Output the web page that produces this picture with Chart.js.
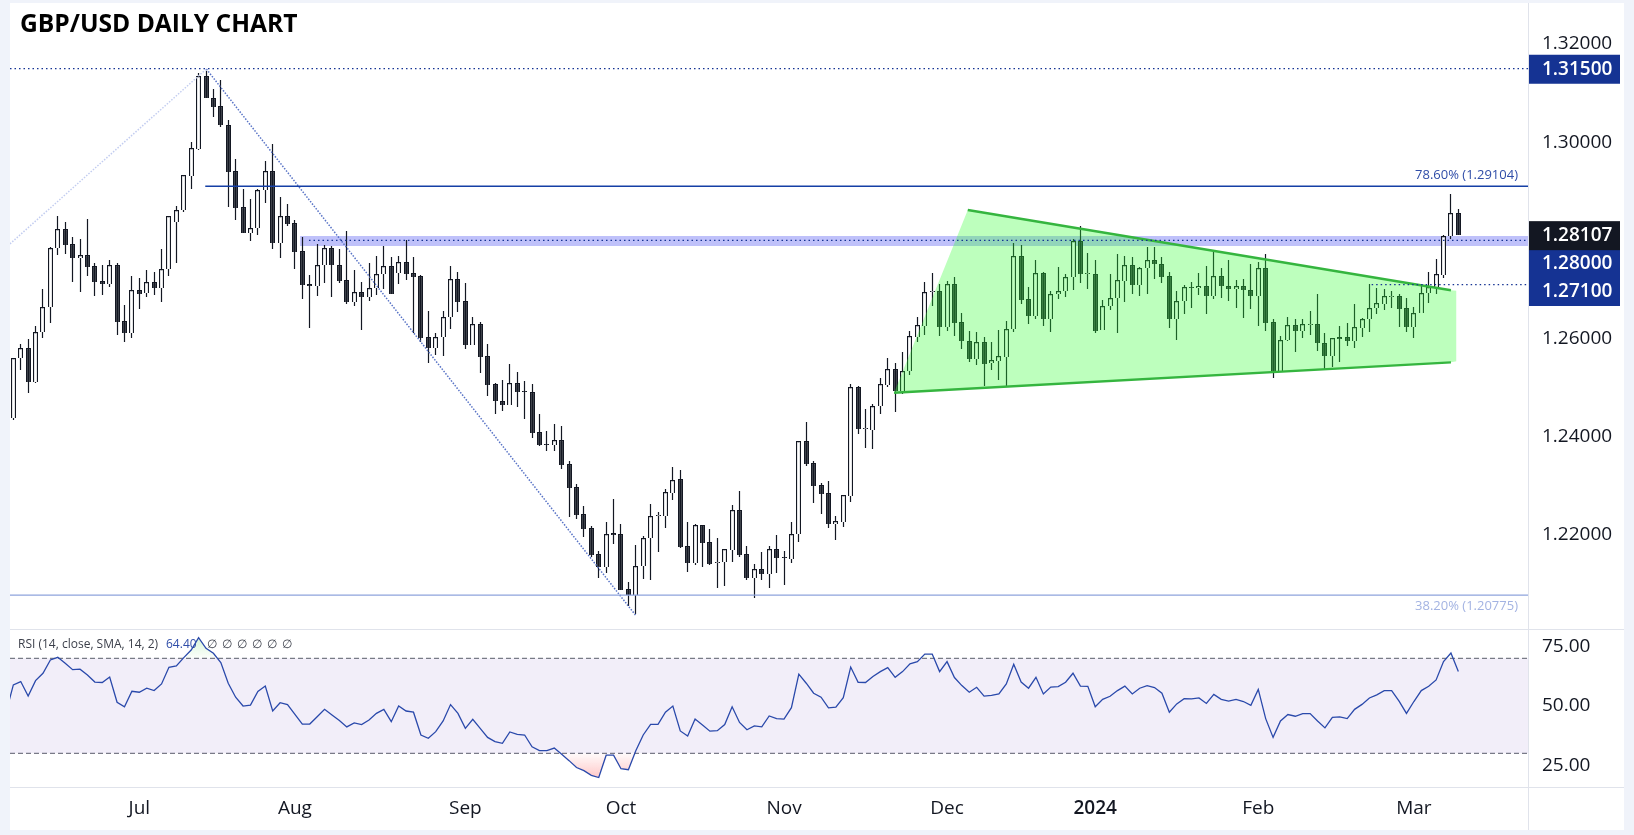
<!DOCTYPE html>
<html>
<head>
<meta charset="utf-8">
<title>GBP/USD Daily Chart</title>
<script src="https://cdn.jsdelivr.net/npm/chart.js@4"></script>
<style>
  html, body { margin: 0; padding: 0; background: #f0f3fa; overflow: hidden; }
  #frame { position: absolute; left: 10px; top: 3px; width: 1614px; height: 827px; background: #fff; }
  .rule { position: absolute; background: #e0e3eb; }
  canvas { position: absolute; left: 0; }
  #priceChart { top: 0; }
  #rsiChart { top: 629px; }
</style>
</head>
<body>
<div id="frame"></div>
<div class="rule" style="left:1528px;top:3px;width:1px;height:827px"></div>
<div class="rule" style="left:10px;top:629px;width:1614px;height:1px"></div>
<div class="rule" style="left:10px;top:787px;width:1614px;height:1px"></div>
<canvas id="priceChart" width="1634" height="629"></canvas>
<canvas id="rsiChart" width="1634" height="201"></canvas>

<script>
const FONT = "'Open Sans', sans-serif";
const INK = "#131722";
const NAVY = "#153393";

// ---------------- Sample Data ----------------
// open, high, low, close
const candles = [
  [1.2438,1.2561,1.2435,1.2560],[1.2560,1.2590,1.2536,1.2580],[1.2580,1.2600,1.2490,1.2512],[1.2512,1.2626,1.2510,1.2613],
  [1.2613,1.2701,1.2602,1.2664],[1.2664,1.2787,1.2632,1.2784],[1.2784,1.2850,1.2770,1.2823],[1.2823,1.2837,1.2772,1.2791],
  [1.2792,1.2807,1.2716,1.2765],[1.2765,1.2803,1.2694,1.2770],[1.2770,1.2844,1.2727,1.2746],[1.2748,1.2753,1.2687,1.2716],
  [1.2717,1.2750,1.2689,1.2712],[1.2712,1.2760,1.2706,1.2749],[1.2750,1.2755,1.2608,1.2634],[1.2635,1.2668,1.2594,1.2612],
  [1.2612,1.2727,1.2602,1.2698],[1.2699,1.2723,1.2661,1.2691],[1.2692,1.2740,1.2685,1.2715],[1.2715,1.2736,1.2689,1.2704],
  [1.2704,1.2782,1.2675,1.2741],[1.2741,1.2850,1.2728,1.2849],[1.2838,1.2870,1.2753,1.2861],[1.2861,1.2934,1.2858,1.2933],
  [1.2932,1.3000,1.2905,1.2988],[1.2987,1.3140,1.2985,1.3134],[1.3134,1.3144,1.3091,1.3091],[1.3091,1.3108,1.3052,1.3072],
  [1.3073,1.3127,1.3030,1.3036],[1.3036,1.3045,1.2869,1.2940],[1.2941,1.2966,1.2842,1.2867],[1.2868,1.2905,1.2816,1.2816],
  [1.2816,1.2884,1.2799,1.2825],[1.2825,1.2905,1.2812,1.2902],[1.2902,1.2962,1.2877,1.2941],[1.2941,1.2996,1.2783,1.2795],
  [1.2795,1.2888,1.2764,1.2849],[1.2849,1.2874,1.2829,1.2834],[1.2835,1.2841,1.2742,1.2777],[1.2778,1.2807,1.2681,1.2709],
  [1.2711,1.2729,1.2622,1.2708],[1.2708,1.2793,1.2687,1.2749],[1.2749,1.2791,1.2713,1.2784],[1.2784,1.2789,1.2685,1.2749],
  [1.2749,1.2783,1.2713,1.2718],[1.2719,1.2819,1.2671,1.2675],[1.2675,1.2740,1.2667,1.2694],[1.2694,1.2715,1.2618,1.2685],
  [1.2685,1.2754,1.2677,1.2704],[1.2704,1.2768,1.2689,1.2731],[1.2731,1.2789,1.2702,1.2747],[1.2747,1.2766,1.2690,1.2690],
  [1.2734,1.2768,1.2711,1.2757],[1.2757,1.2800,1.2719,1.2732],[1.2733,1.2766,1.2611,1.2726],[1.2727,1.2729,1.2593,1.2602],
  [1.2603,1.2656,1.2550,1.2580],[1.2580,1.2611,1.2567,1.2603],[1.2603,1.2656,1.2565,1.2645],[1.2645,1.2747,1.2620,1.2721],
  [1.2721,1.2735,1.2654,1.2675],[1.2676,1.2713,1.2579,1.2588],[1.2588,1.2644,1.2588,1.2629],[1.2630,1.2634,1.2530,1.2563],
  [1.2564,1.2589,1.2483,1.2506],[1.2507,1.2509,1.2446,1.2472],[1.2472,1.2516,1.2453,1.2465],[1.2465,1.2548,1.2465,1.2509],
  [1.2509,1.2532,1.2461,1.2492],[1.2493,1.2514,1.2436,1.2492],[1.2491,1.2508,1.2398,1.2408],[1.2410,1.2446,1.2381,1.2383],
  [1.2385,1.2412,1.2371,1.2384],[1.2384,1.2426,1.2371,1.2393],[1.2394,1.2422,1.2334,1.2343],[1.2345,1.2350,1.2237,1.2296],
  [1.2298,1.2303,1.2233,1.2241],[1.2243,1.2259,1.2195,1.2212],[1.2214,1.2218,1.2155,1.2159],[1.2161,1.2167,1.2112,1.2135],
  [1.2135,1.2226,1.2123,1.2203],[1.2204,1.2273,1.2182,1.2200],[1.2202,1.2222,1.2088,1.2088],[1.2090,1.2104,1.2055,1.2078],
  [1.2078,1.2180,1.2039,1.2136],[1.2136,1.2197,1.2110,1.2193],[1.2193,1.2263,1.2108,1.2238],[1.2239,1.2246,1.2165,1.2241],
  [1.2239,1.2293,1.2214,1.2287],[1.2286,1.2339,1.2271,1.2313],[1.2314,1.2332,1.2174,1.2176],[1.2178,1.2226,1.2125,1.2143],
  [1.2144,1.2222,1.2139,1.2220],[1.2220,1.2220,1.2135,1.2184],[1.2186,1.2212,1.2139,1.2141],[1.2142,1.2194,1.2092,1.2146],
  [1.2146,1.2171,1.2096,1.2171],[1.2170,1.2261,1.2145,1.2250],[1.2251,1.2290,1.2155,1.2159],[1.2161,1.2178,1.2108,1.2112],
  [1.2113,1.2141,1.2072,1.2130],[1.2131,1.2165,1.2108,1.2121],[1.2121,1.2178,1.2092,1.2171],[1.2171,1.2201,1.2123,1.2154],
  [1.2155,1.2167,1.2098,1.2154],[1.2152,1.2226,1.2142,1.2203],[1.2203,1.2391,1.2186,1.2391],[1.2391,1.2430,1.2341,1.2345],
  [1.2346,1.2350,1.2265,1.2300],[1.2301,1.2306,1.2243,1.2284],[1.2285,1.2309,1.2215,1.2223],[1.2223,1.2239,1.2190,1.2228],
  [1.2227,1.2281,1.2216,1.2281],[1.2280,1.2507,1.2267,1.2501],[1.2501,1.2503,1.2406,1.2416],[1.2416,1.2456,1.2377,1.2418],
  [1.2414,1.2467,1.2375,1.2462],[1.2463,1.2520,1.2446,1.2507],[1.2506,1.2560,1.2501,1.2539],[1.2539,1.2550,1.2450,1.2493],
  [1.2494,1.2573,1.2488,1.2535],[1.2535,1.2615,1.2526,1.2605],[1.2604,1.2645,1.2593,1.2627],[1.2626,1.2715,1.2607,1.2694],
  [1.2695,1.2734,1.2666,1.2696],[1.2696,1.2711,1.2605,1.2624],[1.2624,1.2717,1.2615,1.2711],[1.2711,1.2725,1.2605,1.2632],
  [1.2633,1.2653,1.2579,1.2595],[1.2596,1.2615,1.2552,1.2558],[1.2559,1.2613,1.2546,1.2594],[1.2594,1.2603,1.2503,1.2549],
  [1.2550,1.2593,1.2536,1.2556],[1.2555,1.2617,1.2516,1.2564],[1.2563,1.2635,1.2501,1.2619],[1.2619,1.2795,1.2614,1.2768],
  [1.2768,1.2791,1.2671,1.2679],[1.2680,1.2705,1.2630,1.2647],[1.2647,1.2761,1.2639,1.2733],[1.2734,1.2736,1.2626,1.2639],
  [1.2639,1.2697,1.2614,1.2690],[1.2690,1.2746,1.2681,1.2696],[1.2696,1.2732,1.2685,1.2725],[1.2725,1.2803,1.2699,1.2798],
  [1.2798,1.2829,1.2713,1.2732],[1.2733,1.2774,1.2701,1.2734],[1.2731,1.2760,1.2611,1.2616],[1.2617,1.2679,1.2617,1.2666],
  [1.2666,1.2732,1.2658,1.2682],[1.2682,1.2772,1.2611,1.2719],[1.2718,1.2768,1.2675,1.2749],[1.2749,1.2766,1.2691,1.2710],
  [1.2710,1.2746,1.2687,1.2743],[1.2743,1.2787,1.2691,1.2761],[1.2761,1.2787,1.2721,1.2751],[1.2751,1.2766,1.2713,1.2726],
  [1.2727,1.2736,1.2622,1.2639],[1.2639,1.2697,1.2597,1.2676],[1.2676,1.2709,1.2650,1.2706],[1.2706,1.2715,1.2662,1.2703],
  [1.2704,1.2734,1.2689,1.2708],[1.2708,1.2748,1.2650,1.2687],[1.2687,1.2776,1.2681,1.2727],[1.2727,1.2744,1.2683,1.2708],
  [1.2708,1.2760,1.2677,1.2702],[1.2702,1.2719,1.2662,1.2708],[1.2708,1.2721,1.2642,1.2700],[1.2700,1.2752,1.2660,1.2687],
  [1.2687,1.2756,1.2626,1.2743],[1.2743,1.2772,1.2615,1.2632],[1.2633,1.2640,1.2520,1.2534],[1.2535,1.2605,1.2534,1.2598],
  [1.2598,1.2644,1.2595,1.2627],[1.2627,1.2640,1.2573,1.2616],[1.2616,1.2640,1.2601,1.2629],[1.2628,1.2656,1.2607,1.2630],
  [1.2629,1.2691,1.2575,1.2592],[1.2592,1.2611,1.2536,1.2565],[1.2565,1.2601,1.2542,1.2601],[1.2603,1.2626,1.2552,1.2600],
  [1.2603,1.2632,1.2585,1.2596],[1.2596,1.2670,1.2581,1.2623],[1.2622,1.2642,1.2603,1.2639],[1.2639,1.2711,1.2613,1.2662],
  [1.2662,1.2703,1.2650,1.2672],[1.2671,1.2701,1.2658,1.2686],[1.2685,1.2697,1.2662,1.2687],[1.2686,1.2691,1.2624,1.2661],
  [1.2662,1.2683,1.2613,1.2624],[1.2624,1.2664,1.2601,1.2653],[1.2653,1.2707,1.2652,1.2692],[1.2692,1.2736,1.2672,1.2706],
  [1.2706,1.2762,1.2691,1.2731],[1.2730,1.2810,1.2724,1.2808],[1.2808,1.2895,1.2803,1.2855],[1.2855,1.2864,1.2811,1.2811]
];

// first value belongs to the bar just left of the view
const rsiValues = [
  47.0,58.8,60.2,54.1,60.6,63.7,69.3,70.4,67.9,65.2,65.4,63.0,60.0,59.8,62.1,51.5,49.6,56.1,55.7,57.4,56.4,59.2,66.2,66.8,70.3,
  73.5,78.7,74.2,72.1,68.2,59.5,53.6,49.9,50.3,56.0,58.3,47.8,51.3,50.5,46.4,42.3,42.3,45.4,48.5,46.1,43.8,41.1,42.8,42.1,44.0,
  46.8,48.5,43.3,49.9,47.8,47.3,37.7,36.3,39.1,43.6,50.5,46.8,40.5,44.3,40.5,36.7,34.9,34.2,39.0,38.0,37.7,32.7,31.1,31.1,32.2,
  29.6,26.9,24.0,22.7,20.7,19.8,29.2,29.2,23.5,23.1,31.1,37.7,42.2,42.2,47.3,49.9,39.4,37.3,44.4,41.9,39.3,39.5,42.1,49.6,43.0,
  39.9,41.5,41.1,45.7,44.6,44.4,49.2,63.3,59.5,55.3,53.6,49.1,49.4,53.4,66.3,59.9,59.8,62.3,64.4,66.1,62.0,64.4,67.7,68.6,71.8,
  71.8,64.4,68.6,61.9,58.5,55.7,57.8,54.1,54.4,55.0,59.2,67.5,60.0,57.4,62.0,55.0,57.9,58.1,59.9,63.7,58.3,58.2,49.6,52.7,54.0,
  56.4,58.3,55.0,57.4,58.5,57.7,55.3,47.3,50.8,53.0,52.9,53.3,51.0,54.8,52.7,52.0,52.7,51.8,50.2,56.9,44.6,36.7,43.6,46.3,45.6,
  46.7,46.7,43.6,40.7,45.1,45.3,44.6,48.5,50.6,53.3,54.6,56.4,56.4,52.0,46.8,51.8,56.4,58.2,60.9,68.6,72.2,64.4
];

const monthTicks = { 17: "Jul", 38: "Aug", 61: "Sep", 82: "Oct", 104: "Nov", 126: "Dec", 146: "2024", 168: "Feb", 189: "Mar" };

// bar-number range of both panes
const X_MIN = -0.45;
const X_MAX = 204.4;

function seg(points, extra) {
  return Object.assign({
    type: "line",
    data: points.map(p => ({ x: p[0], y: p[1] })),
    pointRadius: 0,
    fill: false,
    tension: 0
  }, extra);
}

// scale paddings would shrink the pane to make room for the tick labels
function fixAxis(axis) {
  axis.paddingTop = 0;
  axis.paddingBottom = 0;
  axis.paddingLeft = 0;
  axis.paddingRight = 0;
}

// ---------------- Main Pane Datasets ----------------
const priceDatasets = [
  // support / resistance zone
  seg([[38.7, 1.2809], [X_MAX, 1.2809]], { borderWidth: 0, backgroundColor: "rgba(120,123,245,0.47)", fill: { value: 1.27886 }, order: 30 }),

  // wicks and bodies
  {
    data: candles.map((c, i) => ({ x: i, y: [c[2], c[1]] })),
    backgroundColor: INK,
    barThickness: 1.2,
    inflateAmount: 0,
    grouped: false,
    order: 20
  },
  {
    data: candles.map((c, i) => ({ x: i, y: [Math.min(c[0], c[3]), Math.max(c[0], c[3])] })),
    backgroundColor: candles.map(c => (c[3] >= c[0] ? "#ffffff" : INK)),
    borderColor: INK,
    borderWidth: 1.3,
    barThickness: 5,
    inflateAmount: 0,
    grouped: false,
    order: 19
  },

  // triangle shading sits on top of the candles
  seg([[118.85, 1.24898], [128.8, 1.28619], [194, 1.26984], [194.75, 1.26977]], { borderWidth: 0, backgroundColor: "rgba(50,255,50,0.32)", fill: "+1", order: 10 }),
  seg([[118.85, 1.24898], [194, 1.25517], [194.75, 1.25538]], { borderWidth: 0, order: 11 }),
  seg([[128.8, 1.28619], [194, 1.26984]], { borderColor: "#35b53f", borderWidth: 2.4, order: 5 }),
  seg([[118.85, 1.24898], [194, 1.25517]], { borderColor: "#35b53f", borderWidth: 2.4, order: 5 }),

  // fib levels
  seg([[25.9, 1.29104], [X_MAX, 1.29104]], { borderColor: "#153fa5", borderWidth: 1.5, order: 4 }),
  seg([[X_MIN, 1.20775], [X_MAX, 1.20775]], { borderColor: "#8ea3dc", borderWidth: 1.2, order: 4 }),

  // swing lines
  seg([[X_MIN, 1.2793], [26.05, 1.3149]], { borderColor: "#c3cdf0", borderWidth: 1.5, borderDash: [1.5, 1.5], order: 4 }),
  seg([[26.05, 1.3149], [83.95, 1.2037]], { borderColor: "#5873c6", borderWidth: 1.5, borderDash: [1.5, 1.5], order: 4 }),

  // horizontal dotted levels
  seg([[X_MIN, 1.315], [X_MAX, 1.315]], { borderColor: NAVY, borderWidth: 1.2, borderDash: [1.5, 3], order: 3 }),
  seg([[39.9, 1.28], [X_MAX, 1.28]], { borderColor: NAVY, borderWidth: 1.2, borderDash: [1.5, 3], order: 3 }),
  seg([[183.3, 1.271], [X_MAX, 1.271]], { borderColor: NAVY, borderWidth: 1.2, borderDash: [1.5, 3], order: 3 })
];

// ---------------- Keep candles on whole pixels ----------------
const snapBars = {
  id: "snapBars",
  beforeDatasetsDraw(chart) {
    chart.getSortedVisibleDatasetMetas().forEach(meta => {
      if (meta.type !== "bar") return;
      meta.data.forEach(el => {
        el.x = Math.floor(el.x) + 0.5;
        el.y = Math.round(el.y);
        el.base = Math.round(el.base);
        if (el.y === el.base) el.base = el.y + 1;
      });
    });
  }
};

// ---------------- Labels drawn over the main pane ----------------
const priceBadges = [
  { text: "1.31500", value: 1.315, dy: 0.7, h: 29, color: NAVY },
  { text: "1.28000", value: 1.28, dy: 23.6, h: 28, color: NAVY },
  { text: "1.27100", value: 1.271, dy: 7.4, h: 28, color: NAVY },
  { text: "1.28107", value: 1.28107, dy: 0.5, h: 29, color: INK }
];

const priceOverlay = {
  id: "priceOverlay",
  afterDraw(chart) {
    const { ctx, scales } = chart;
    ctx.save();

    ctx.fillStyle = "#000";
    ctx.font = "700 24.6px " + FONT;
    ctx.textAlign = "left";
    ctx.textBaseline = "alphabetic";
    ctx.fillText("GBP/USD DAILY CHART", 20, 32);

    ctx.font = "13px " + FONT;
    ctx.textAlign = "right";
    ctx.fillStyle = "#2f4da8";
    ctx.fillText("78.60% (1.29104)", 1518, 179);
    ctx.fillStyle = "#a3b3e2";
    ctx.fillText("38.20% (1.20775)", 1518, 610);

    ctx.textAlign = "left";
    ctx.textBaseline = "middle";
    priceBadges.forEach(b => {
      const y = scales.y.getPixelForValue(b.value) + b.dy;
      ctx.fillStyle = b.color;
      ctx.fillRect(1529, y - b.h / 2, 91, b.h);
      ctx.fillStyle = "#fff";
      ctx.font = "600 19px " + FONT;
      ctx.fillText(b.text, 1542, y);
    });
    ctx.restore();
  }
};

// ---------------- Main Pane Chart ----------------
new Chart(document.getElementById("priceChart"), {
  type: "bar",
  data: { datasets: priceDatasets },
  plugins: [snapBars, priceOverlay],
  options: {
    responsive: false,
    animation: false,
    layout: { padding: { left: 10, top: 3 } },
    plugins: { legend: { display: false }, tooltip: { enabled: false } },
    scales: {
      x: { type: "linear", min: X_MIN, max: X_MAX, offset: false, display: false },
      y: {
        position: "right",
        min: 1.20086,
        max: 1.32835,
        beginAtZero: false,
        grid: { display: false, drawTicks: false },
        border: { display: false },
        afterFit(axis) { axis.width = 106; fixAxis(axis); },
        afterBuildTicks(axis) { axis.ticks = [1.32, 1.30, 1.26, 1.24, 1.22].map(v => ({ value: v })); },
        ticks: { color: INK, padding: 14, font: { family: FONT, size: 19 }, callback: v => v.toFixed(5) }
      }
    }
  }
});

// ---------------- RSI Pane ----------------
const rsiPoints = rsiValues.map((v, i) => ({ x: i - 1, y: v }));

// overbought / oversold shading fades out towards the band
const rsiCanvas = document.getElementById("rsiChart");
const rsiCtx = rsiCanvas.getContext("2d");
const oversold = rsiCtx.createLinearGradient(0, 124, 0, 148);
oversold.addColorStop(0, "rgba(255,90,90,0.02)");
oversold.addColorStop(1, "rgba(255,90,90,0.32)");
const overbought = rsiCtx.createLinearGradient(0, 29, 0, 8);
overbought.addColorStop(0, "rgba(90,210,90,0.02)");
overbought.addColorStop(1, "rgba(90,210,90,0.25)");

const rsiOverlay = {
  id: "rsiOverlay",
  afterDraw(chart) {
    const { ctx } = chart;
    ctx.save();
    ctx.textBaseline = "middle";
    ctx.font = "12px " + FONT;
    ctx.fillStyle = "#3b3f4a";
    ctx.fillText("RSI (14, close, SMA, 14, 2)", 18, 16);
    ctx.fillStyle = "#2f4da8";
    ctx.fillText("64.40", 166, 16);
    ctx.fillStyle = "#3b3f4a";
    [207, 222, 237, 252, 267, 282].forEach(x => ctx.fillText("\u2205", x, 16));
    ctx.restore();
  }
};

new Chart(rsiCanvas, {
  type: "line",
  data: {
    datasets: [
      seg([[X_MIN, 70], [X_MAX, 70]], { borderColor: "#787b86", borderWidth: 1.2, borderDash: [5, 3], backgroundColor: "rgba(126,87,194,0.1)", fill: "+1", order: 5 }),
      seg([[X_MIN, 30], [X_MAX, 30]], { borderColor: "#787b86", borderWidth: 1.2, borderDash: [5, 3], order: 5 }),
      {
        data: rsiPoints,
        borderColor: "#2a49ab",
        borderWidth: 1.3,
        pointRadius: 0,
        tension: 0,
        fill: { target: { value: 30 }, above: "transparent", below: oversold },
        order: 1
      },
      {
        data: rsiPoints,
        borderWidth: 0,
        pointRadius: 0,
        tension: 0,
        fill: { target: { value: 70 }, above: overbought, below: "transparent" },
        order: 2
      }
    ]
  },
  plugins: [rsiOverlay],
  options: {
    responsive: false,
    animation: false,
    layout: { padding: { left: 10 } },
    plugins: { legend: { display: false }, tooltip: { enabled: false } },
    scales: {
      x: {
        type: "linear",
        min: X_MIN,
        max: X_MAX,
        grid: { display: false, drawTicks: false },
        border: { display: false },
        afterFit(axis) { axis.height = 43; fixAxis(axis); },
        afterBuildTicks(axis) { axis.ticks = Object.keys(monthTicks).map(k => ({ value: +k })); },
        ticks: {
          color: INK,
          padding: 10,
          autoSkip: false,
          maxRotation: 0,
          font: ctx => ({ family: FONT, size: 19, weight: monthTicks[ctx.tick?.value] === "2024" ? "600" : "400" }),
          callback: v => monthTicks[v]
        }
      },
      y: {
        position: "right",
        min: 15.8,
        max: 82.34,
        grid: { display: false, drawTicks: false },
        border: { display: false },
        afterFit(axis) { axis.width = 106; fixAxis(axis); },
        afterBuildTicks(axis) { axis.ticks = [75, 50, 25].map(v => ({ value: v })); },
        ticks: { color: INK, padding: 14, font: { family: FONT, size: 19 }, callback: v => v.toFixed(2) }
      }
    }
  }
});
</script>
</body>
</html>
